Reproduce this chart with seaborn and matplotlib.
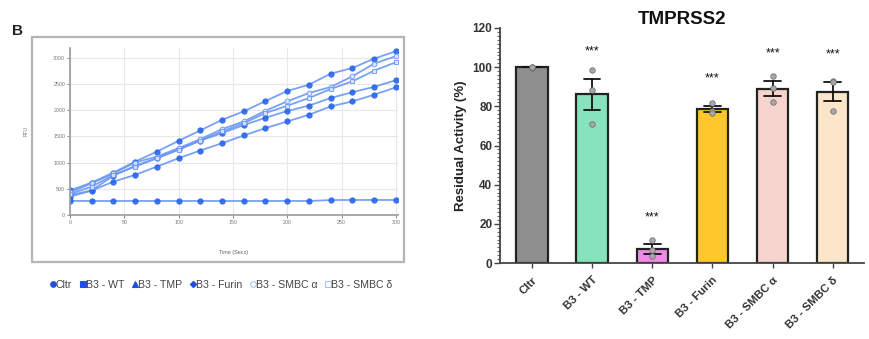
import numpy as np
import pandas as pd
import matplotlib
matplotlib.use("Agg")
import matplotlib.pyplot as plt
from matplotlib.lines import Line2D
from matplotlib.patches import Rectangle
from matplotlib.ticker import MultipleLocator
from matplotlib import font_manager
import seaborn as sns

# ---------------- data: kinetics (left panel) ----------------
time_s = [0, 20, 40, 60, 80, 100, 120, 140, 160, 180, 200, 220, 240, 260, 280, 300]
rfu_cltr = [470, 620, 810, 1020, 1210, 1417, 1615, 1819, 1979, 2177, 2368, 2489, 2700, 2808, 2987, 3128]
rfu_wt = [380, 470, 750, 940, 1085, 1255, 1420, 1565, 1717, 1858, 1985, 2090, 2234, 2346, 2447, 2575]
rfu_tmp = [270, 268, 268, 268, 268, 268, 268, 268, 268, 268, 268, 268, 285, 287, 287, 287]
rfu_furin = [351, 466, 638, 766, 925, 1085, 1232, 1372, 1519, 1660, 1787, 1915, 2074, 2170, 2298, 2438]
rfu_smbc_a = [430, 606, 798, 1002, 1117, 1277, 1449, 1640, 1787, 1992, 2170, 2330, 2445, 2649, 2892, 3032]
rfu_smbc_d = [400, 543, 766, 925, 1085, 1245, 1423, 1596, 1755, 1947, 2087, 2234, 2406, 2553, 2757, 2917]
legend_labels = ["Cltr", "B3 - WT", "B3 - TMP", "B3 - Furin", "B3 - SMBC \u03b1", "B3 - SMBC \u03b4"]

# ---------------- data: residual activity (right panel) ----------------
categories = ["Cltr", "B3 - WT", "B3 - TMP", "B3 - Furin", "B3 - SMBC \u03b1", "B3 - SMBC \u03b4"]
rep_cltr = [99.8, 100.0, 100.2]
rep_wt = [98.7, 88.5, 71.0]
rep_tmp = [11.5, 6.5, 3.5]
rep_furin = [81.5, 77.8, 76.5]
rep_smbc_a = [95.6, 89.4, 82.2]
rep_smbc_d = [93.1, 92.2, 77.4]
significance = ["", "***", "***", "***", "***", "***"]
bar_colors = ["#8f8f8f", "#86e3bb", "#f08ce8", "#ffc72c", "#f6d3cd", "#fbe6c9"]

# ---------------- figure ----------------
sns.set_theme(style="white")
plt.rcParams["font.family"] = ["Liberation Sans", "DejaVu Sans"]

installed = {f.name for f in font_manager.fontManager.ttflist}
narrow = "Liberation Sans Narrow" if "Liberation Sans Narrow" in installed else "Liberation Sans"

W, H = 869, 339
fig = plt.figure(figsize=(W / 100, H / 100), dpi=100)

def fx(px):
    return px / W

def fy(py):
    return 1 - py / H

# ---------- left panel ----------
fig.text(fx(12), fy(31), "B", fontsize=11, fontweight="bold", ha="left", va="center", color="#222222")
fig.add_artist(Rectangle((fx(32), fy(262)), fx(404) - fx(32), fy(37) - fy(262),
                         transform=fig.transFigure, fill=False, ec="#b5b5b5", lw=1.6))

axL = fig.add_axes([fx(70), fy(215), fx(398) - fx(70), fy(48) - fy(215)])
series = [rfu_cltr, rfu_wt, rfu_tmp, rfu_furin, rfu_smbc_a, rfu_smbc_d]
mk = ["o", "o", "o", "o", "o", "s"]
line_c = "#6b98f3"
mark_c = "#2a66ec"
for vals, m, lab in zip(series, mk, legend_labels):
    df = pd.DataFrame({"t": time_s, "rfu": vals})
    open_m = "SMBC" in lab
    sns.lineplot(data=df, x="t", y="rfu", ax=axL, color=line_c, lw=1.3, alpha=0.9,
                 marker=m, markersize=3.8 if not open_m else 3.4,
                 markerfacecolor=("#dfe8fd" if open_m else mark_c),
                 markeredgecolor=(line_c if open_m else mark_c), markeredgewidth=0.7, legend=False)
axL.set_xlim(0, 302)
axL.set_ylim(0, 3190)
axL.xaxis.set_major_locator(MultipleLocator(50))
axL.yaxis.set_major_locator(MultipleLocator(500))
axL.grid(True, color="#e8e8e8", lw=0.8)
for s in ["top", "right"]:
    axL.spines[s].set_visible(False)
for s in ["left", "bottom"]:
    axL.spines[s].set_color("#9a9a9a")
    axL.spines[s].set_linewidth(1.2)
axL.tick_params(labelsize=3.8, colors="#777777", length=2, width=0.6, pad=1.5,
                left=True, bottom=True)
axL.set_xlabel("Time (Secs)", fontsize=4, color="#666666", labelpad=18)
axL.set_ylabel("RFU", fontsize=3.5, color="#777777", labelpad=18)

handles = []
leg_m = ["o", "s", "^", "D", "o", "s"]
for m, lab in zip(leg_m, legend_labels):
    open_m = "SMBC" in lab
    handles.append(Line2D([], [], ls="none", marker=m, markersize=4 if m != "D" else 3.2,
                          markerfacecolor=("none" if open_m else "#1f4fe0"),
                          markeredgecolor=("#a9bff5" if open_m else "#1f4fe0"),
                          markeredgewidth=0.8, label=lab))
fsize = 9 if narrow.endswith("Narrow") else 7.6
fig.legend(handles=handles, loc="center", bbox_to_anchor=(fx(221), fy(285)), ncol=6,
           frameon=False, handletextpad=0.0, columnspacing=0.7,
           handlelength=0.6, labelcolor="#444444",
           prop={"family": [narrow, "DejaVu Sans"], "size": fsize})

# ---------- right panel ----------
axR = fig.add_axes([fx(500), fy(263), fx(864) - fx(500), fy(28) - fy(263)])
reps = [rep_cltr, rep_wt, rep_tmp, rep_furin, rep_smbc_a, rep_smbc_d]
rows = []
for c, r in zip(categories, reps):
    for v in r:
        rows.append({"group": c, "value": v})
dfb = pd.DataFrame(rows)

sns.barplot(data=dfb, x="group", y="value", hue="group", order=categories, hue_order=categories,
            palette=bar_colors, saturation=1, errorbar="se", capsize=0.28,
            err_kws={"color": "#111111", "linewidth": 1.3},
            width=0.52, edgecolor="#222222", linewidth=1.6, legend=False, ax=axR, zorder=2)
sns.stripplot(data=dfb, x="group", y="value", order=categories, color="#a8a8a8", size=4.0,
              edgecolor="#666666", linewidth=0.5, jitter=0.0, ax=axR, zorder=4)

for i, (r, s) in enumerate(zip(reps, significance)):
    if s:
        arr = np.asarray(r)
        top = arr.mean() + arr.std(ddof=1) / np.sqrt(len(arr))
        axR.text(i, top + 14, s, ha="center", va="center", fontsize=9, color="#111111")

axR.set_xlim(-0.53, 5.52)
axR.set_ylim(0, 120)
axR.yaxis.set_major_locator(MultipleLocator(20))
axR.yaxis.set_minor_locator(MultipleLocator(2))
for s in ["top", "right"]:
    axR.spines[s].set_visible(False)
for s in ["left", "bottom"]:
    axR.spines[s].set_color("#444444")
    axR.spines[s].set_linewidth(1.3)
axR.tick_params(axis="y", which="major", length=4, width=1.0, color="#444444",
                labelsize=8.5, pad=1.5, left=True)
axR.tick_params(axis="y", which="minor", length=2.2, width=0.8, color="#666666", left=True)
axR.tick_params(axis="x", length=3.5, width=1.0, color="#444444", bottom=True, pad=5)
for lab in axR.get_yticklabels():
    lab.set_fontweight("bold")
    lab.set_color("#333333")
axR.set_xticks(range(len(categories)))
axR.set_xticklabels(categories, rotation=45, ha="right", rotation_mode="anchor",
                    fontsize=8.2, fontweight="bold", color="#333333")
axR.set_xlabel("")
axR.set_ylabel("Residual Activity (%)", fontsize=9.5, fontweight="bold", color="#222222", labelpad=4)
axR.set_title("TMPRSS2", fontsize=13.5, fontweight="bold", color="#111111", pad=3)

fig.savefig("out.png", dpi=100)
